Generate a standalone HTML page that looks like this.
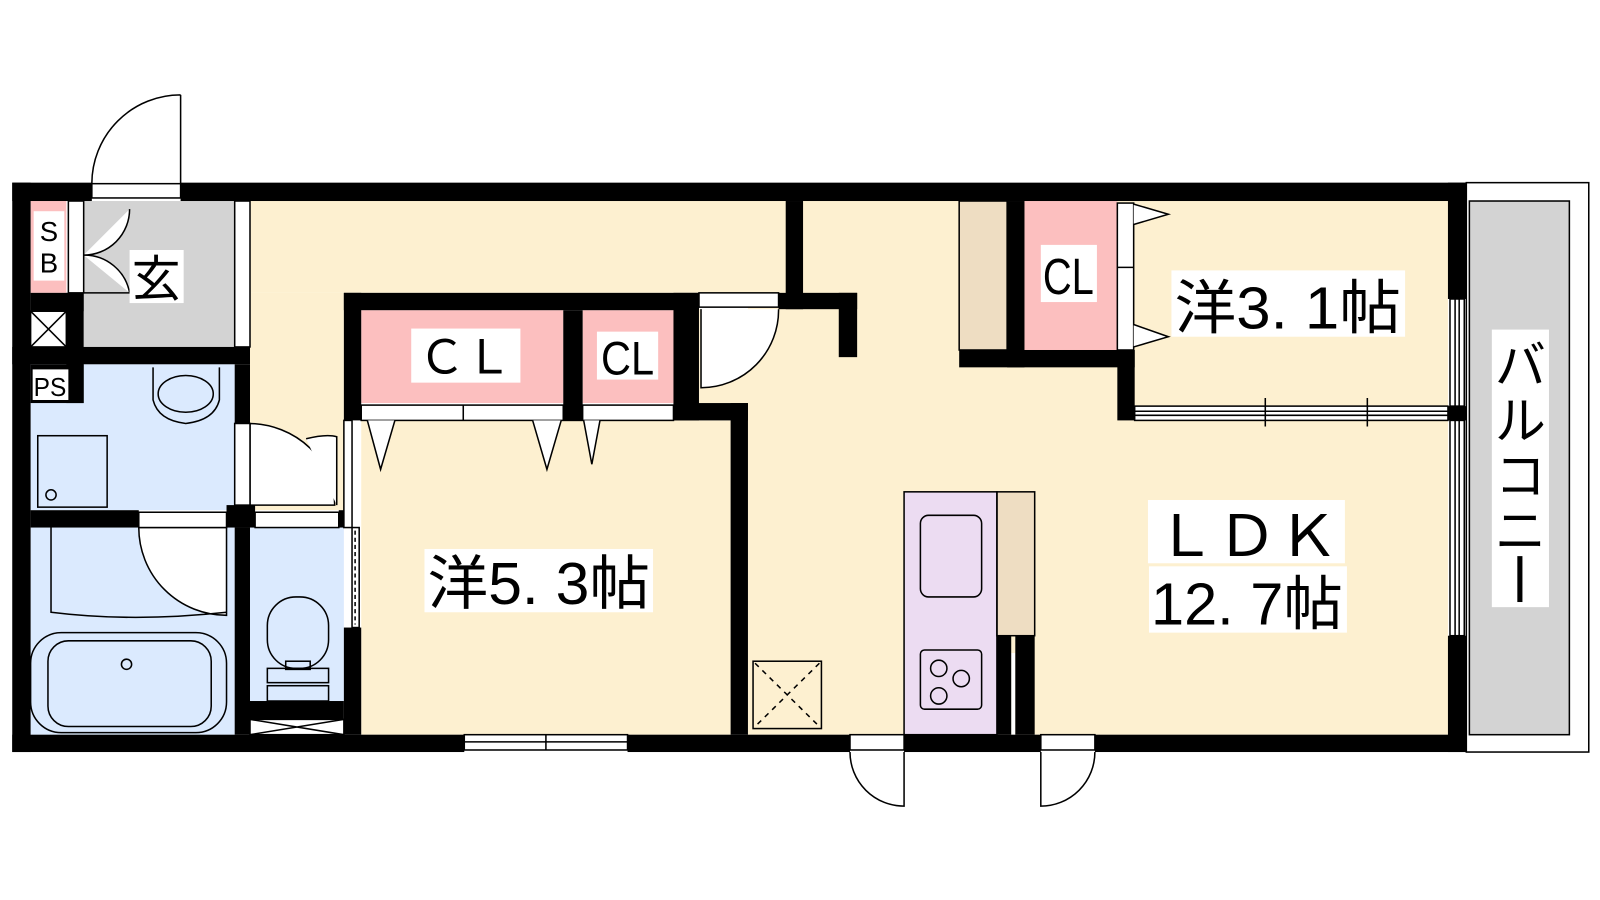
<!DOCTYPE html>
<html><head><meta charset="utf-8"><style>
html,body{margin:0;padding:0;background:#fff;width:1600px;height:900px;overflow:hidden}
svg{display:block}
text{font-family:"Liberation Sans","Noto Sans CJK JP",sans-serif;fill:#000}
</style></head><body>
<svg width="1600" height="900" viewBox="0 0 1600 900" xmlns="http://www.w3.org/2000/svg">
<g transform="scale(1.0204)">
<g stroke="none">
<rect x="245" y="197" width="525" height="90" fill="#fdf0d0"/>
<rect x="245" y="287" width="92" height="213" fill="#fdf0d0"/>
<rect x="685" y="303" width="60" height="92" fill="#fdf0d0"/>
<rect x="733" y="197" width="686" height="523" fill="#fdf0d0"/>
<rect x="354" y="412" width="362" height="308" fill="#fdf0d0"/>
<rect x="82" y="197" width="148" height="143" fill="#d3d3d3"/>
<rect x="30" y="357" width="200" height="143" fill="#dbeafe"/>
<rect x="30" y="517" width="200" height="203" fill="#dbeafe"/>
<rect x="245" y="517" width="92" height="170" fill="#dbeafe"/>
<rect x="30" y="197" width="35" height="90" fill="#fcbfbf"/>
<rect x="354" y="304" width="198" height="91" fill="#fcbfbf"/>
<rect x="571" y="304" width="89" height="91" fill="#fcbfbf"/>
<rect x="1004" y="197" width="91" height="146" fill="#fcbfbf"/>
<rect x="940" y="197" width="47" height="146" fill="#eeddc2"/>
<rect x="977" y="482" width="37" height="141" fill="#eeddc2"/>
<rect x="886" y="482" width="91" height="238" fill="#ecdcf2"/>
<rect x="1440" y="197" width="98" height="523" fill="#d3d3d3"/>
</g>
<g fill="none" stroke="#000" stroke-width="1.5">
<rect x="1437" y="179" width="120" height="558"/>
<rect x="1440" y="197" width="98" height="523"/>
<rect x="940" y="197" width="47" height="146"/>
<rect x="886" y="482" width="91" height="238"/>
<rect x="977" y="482" width="37" height="141"/>
<rect x="902" y="505" width="60" height="80" rx="8"/>
<rect x="902" y="637" width="60" height="58" rx="4"/>
<circle cx="920" cy="655" r="8"/><circle cx="942" cy="665" r="8"/><circle cx="920" cy="682" r="8"/>
<rect x="738" y="648" width="67" height="66"/>
<path d="M740 650 L803 712 M803 650 L740 712" stroke-dasharray="5 5"/>
<path d="M177 93 V180 M177 93 A87 87 0 0 0 90 180"/>
<path d="M687 303 V380 A76 76 0 0 0 763 303" fill="#fff"/>
<path d="M245 415 A85 80 0 0 1 328 495 L245 495 Z" fill="#fff"/>
<path d="M300 430 Q320 425 330 428 V495" fill="#fff"/>
<path d="M136 517 A86 86 0 0 0 222 603 V517 Z" fill="#fff"/>
<path d="M833 737 A53 53 0 0 0 886 790 V737"/>
<path d="M1020 737 V790 A53 53 0 0 0 1073 737"/>
<path d="M82 250 A45 45 0 0 0 127 205 M82 250 A45 45 0 0 1 127 287 M82 287 H127" fill="#fff"/>
<path d="M150 360 V392 Q155 412 182 415 Q210 412 215 392 V360"/>
<ellipse cx="182" cy="386" rx="27" ry="18"/>
<rect x="37" y="427" width="68" height="70"/>
<circle cx="50" cy="485" r="5"/>
<rect x="30" y="620" width="192" height="98" rx="30"/>
<rect x="47" y="628" width="160" height="84" rx="20"/>
<circle cx="124" cy="651" r="5"/>
<path d="M50 517 V600 Q130 610 222 600"/>
<rect x="262" y="585" width="60" height="70" rx="28"/>
<rect x="262" y="655" width="60" height="14"/><rect x="280" y="648" width="24" height="8"/>
<rect x="262" y="672" width="60" height="15"/>
<rect x="245" y="705" width="92" height="15" fill="#fff"/>
<path d="M245 705 L337 720 M337 705 L245 720"/>
<rect x="30" y="305" width="35" height="35" fill="#fff"/>
<path d="M30 305 L65 340 M65 305 L30 340"/>
<rect x="90" y="180" width="87" height="14" fill="#fff"/>
<rect x="67" y="197" width="15" height="90" fill="#fff"/>
<rect x="230" y="197" width="15" height="143" fill="#fff"/>
<rect x="230" y="415" width="15" height="80" fill="#fff"/>
<rect x="250" y="502" width="82" height="15" fill="#fff"/>
<rect x="136" y="502" width="86" height="15" fill="#fff"/>
<rect x="337" y="412" width="8" height="105" fill="#fff"/>
<rect x="345" y="517" width="7" height="98" fill="#fff"/>
<path d="M348 520 V612" stroke-dasharray="4 3"/>
<rect x="685" y="287" width="78" height="14" fill="#fff"/>
<rect x="354" y="397" width="306" height="15" fill="#fff"/>
<path d="M454 397 V412 M552 397 V412 M571 397 V412"/>
<path d="M360 412 L373 460 L387 412 M522 412 L536 460 L550 412 M572 412 L580 455 L588 412" fill="#fff"/>
<rect x="1095" y="199" width="16" height="144" fill="#fff"/>
<path d="M1095 262 H1111"/>
<path d="M1111 200 L1145 210 L1111 220 M1111 318 L1145 330 L1111 340" fill="#fff"/>
<rect x="455" y="720" width="160" height="15" fill="#fff"/><path d="M455 727 H615 M535 720 V735"/>
<rect x="833" y="720" width="53" height="15" fill="#fff"/>
<rect x="1020" y="720" width="53" height="15" fill="#fff"/>
<rect x="1112" y="398" width="307" height="14" fill="#fff"/>
<path d="M1112 403 H1419 M1112 407 H1419 M1240 390 V418 M1340 390 V418"/>
<rect x="1421" y="293" width="14" height="105" fill="#fff"/>
<rect x="1421" y="412" width="14" height="211" fill="#fff"/>
<path d="M1426 293 V398 M1430 293 V398 M1426 412 V623 M1430 412 V623"/>
<rect x="991" y="640" width="4" height="80" fill="#fff" stroke="none"/>
</g>
<g fill="#000">
<rect x="12" y="179" width="78" height="18"/>
<rect x="177" y="179" width="1260" height="18"/>
<rect x="12" y="179" width="18" height="558"/>
<rect x="12" y="720" width="443" height="17"/>
<rect x="615" y="720" width="218" height="17"/>
<rect x="886" y="720" width="134" height="17"/>
<rect x="1073" y="720" width="364" height="17"/>
<rect x="1419" y="179" width="18" height="114"/>
<rect x="1419" y="398" width="18" height="14"/>
<rect x="1419" y="623" width="18" height="114"/>
<rect x="30" y="287" width="52" height="18"/>
<rect x="65" y="287" width="17" height="108"/>
<rect x="30" y="357" width="52" height="38"/>
<rect x="12" y="340" width="233" height="17"/>
<rect x="230" y="357" width="15" height="58"/>
<rect x="30" y="500" width="106" height="17"/>
<rect x="222" y="495" width="28" height="22"/>
<rect x="332" y="500" width="5" height="17"/>
<rect x="230" y="517" width="15" height="203"/>
<rect x="245" y="687" width="92" height="18"/>
<rect x="337" y="287" width="17" height="125"/>
<rect x="337" y="615" width="17" height="105"/>
<rect x="337" y="287" width="348" height="17"/>
<rect x="552" y="304" width="19" height="108"/>
<rect x="660" y="287" width="25" height="125"/>
<rect x="660" y="395" width="73" height="17"/>
<rect x="716" y="395" width="17" height="325"/>
<rect x="770" y="197" width="17" height="106"/>
<rect x="763" y="287" width="77" height="16"/>
<rect x="822" y="287" width="18" height="63"/>
<rect x="987" y="197" width="17" height="163"/>
<rect x="940" y="343" width="172" height="17"/>
<rect x="1095" y="343" width="17" height="69"/>
<rect x="977" y="623" width="14" height="97"/>
<rect x="995" y="623" width="19" height="97"/>
</g>
<g>
<rect x="33" y="207" width="30" height="68" fill="#fff"/>
<text x="48" y="236" font-size="27" text-anchor="middle">S</text>
<text x="48" y="267" font-size="27" text-anchor="middle">B</text>
<rect x="32" y="362" width="35" height="30" fill="#fff"/>
<text x="49" y="388" font-size="25" text-anchor="middle" textLength="32" lengthAdjust="spacingAndGlyphs">PS</text>
<rect x="127" y="245" width="53" height="52" fill="#fff"/>
<text x="153" y="290" font-size="48" text-anchor="middle">玄</text>
<rect x="403" y="322" width="107" height="53" fill="#fff"/>
<text x="456" y="366" font-size="46" text-anchor="middle">ＣＬ</text>
<rect x="585" y="325" width="60" height="47" fill="#fff"/>
<text x="615" y="367" font-size="46" text-anchor="middle" textLength="52" lengthAdjust="spacingAndGlyphs">CL</text>
<rect x="1020" y="240" width="55" height="56" fill="#fff"/>
<text x="1047" y="288" font-size="50" text-anchor="middle" textLength="50" lengthAdjust="spacingAndGlyphs">CL</text>
<rect x="416" y="538" width="224" height="62" fill="#fff"/>
<text x="528" y="592" font-size="58" text-anchor="middle" textLength="218" lengthAdjust="spacingAndGlyphs">洋5. 3帖</text>
<rect x="1148" y="265" width="229" height="65" fill="#fff"/>
<text x="1262" y="322" font-size="58" text-anchor="middle" textLength="222" lengthAdjust="spacingAndGlyphs">洋3. 1帖</text>
<rect x="1125" y="490" width="193" height="62" fill="#fff"/>
<text x="1222" y="545" font-size="56" text-anchor="middle" textLength="180" lengthAdjust="spacingAndGlyphs">ＬＤＫ</text>
<rect x="1126" y="555" width="194" height="65" fill="#fff"/>
<text x="1222" y="612" font-size="58" text-anchor="middle" textLength="188" lengthAdjust="spacingAndGlyphs">12. 7帖</text>
<rect x="1462" y="323" width="56" height="272" fill="#fff"/>
<text x="1490" y="376" font-size="50" text-anchor="middle">バ</text>
<text x="1490" y="430" font-size="50" text-anchor="middle">ル</text>
<text x="1490" y="484" font-size="50" text-anchor="middle">コ</text>
<text x="1490" y="538" font-size="50" text-anchor="middle">ニ</text>
<rect x="1487" y="545" width="5" height="45" fill="#000"/>
</g>
</g>
</svg>
</body></html>
